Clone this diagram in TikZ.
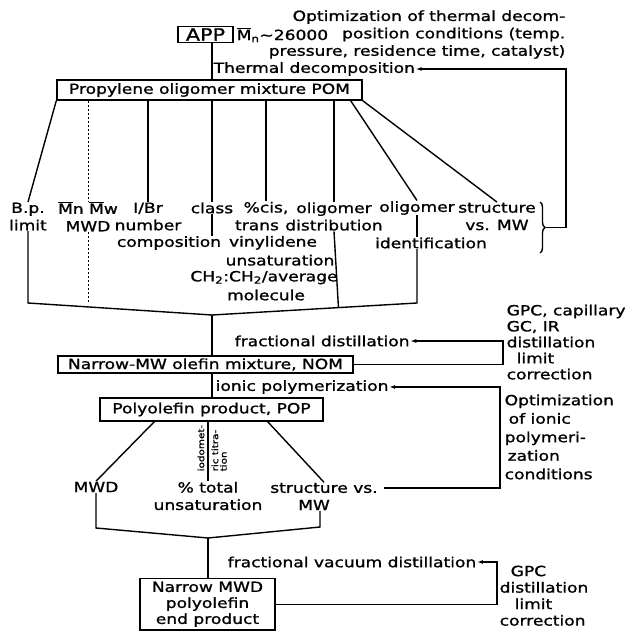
\documentclass[tikz,border=0pt]{standalone}
\usepackage{fontspec}
\setmainfont{DejaVu Sans}[FakeStretch=1.22,FakeBold=1.2]
\usetikzlibrary{arrows.meta,calc,decorations.pathreplacing}
\newcommand\Mbar{$\overline{\mbox{M}}$}

\begin{document}
\begin{tikzpicture}[x=1pt,y=-1pt,line width=1.4pt,
    font=\fontsize{14}{17.4}\selectfont,
    every node/.style={inner sep=0pt},
    box/.style={draw,inner sep=3pt},
    lbl/.style={align=center},
    fb/.style={-{Latex[length=6pt,width=4pt]}},
    dots/.style={line width=0.8pt,dash pattern=on 2pt off 2pt}]
  \useasboundingbox (0,0) rectangle (631,631);

  % feedstock and thermal step
  \node[box,minimum width=55pt,minimum height=16pt,inner sep=0pt,
        font=\fontsize{17}{18}\selectfont] (app) at (205.5,34.5) {APP};
  \node[anchor=west] (mn) at (236,35) {\Mbar\textsubscript{n}\textasciitilde26000};
  \node[anchor=east,align=right] (opt1) at (566,34.5)
    {Optimization of thermal decom-\\position conditions (temp.\\pressure, residence time, catalyst)};
  \node[anchor=west] (thd) at (213,69) {Thermal decomposition};
  \node[box,minimum width=305pt,minimum height=20pt,inner sep=0pt] (pom) at (209.5,90)
    {Propylene oligomer mixture POM};
  \coordinate (ax) at (212,0);
  \draw (app.south -| ax) -- (pom.north -| ax);

  % analyses of POM
  \node[lbl] (bp) at (28,216.5) {B.p.\\limit};
  \node[lbl] (mw) at (88,216.5) {\Mbar n \Mbar w\\MWD};
  \node[lbl] (ibr) at (148,216.5) {I/Br\\number};
  \node (cls) at (212,208) {class};
  \node (cmp) at (169,243) {composition};
  \foreach \t/\x [count=\i] in {{\%cis,}/266, trans/257, vinylidene/273, unsaturation/280,
      {CH\textsubscript{2}:CH\textsubscript{2}/average}/264, molecule/266}
    \node (cis\i) at (\x,190.6+17.4*\i) {\t};
  \node[lbl] (ol1) at (334,216.5) {oligomer\\distribution};
  \node (ol2) at (417,208) {oligomer};
  \node (idf) at (431,243) {identification};
  \node[lbl] (str) at (497,216.5) {structure\\vs. MW};

  \draw (pom.south west) -- (bp.north);
  \draw[dots] (pom.south -| mw) -- (mw.north);
  \foreach \n in {ibr,cls,cis1,ol1}
    \draw (pom.south -| \n) -- (\n.north);
  \draw ([xshift=-12pt]pom.south east) -- (ol2.north);
  \draw (pom.south east) -- (str.north);
  \draw (cls.south) -- (cmp.north -| cls);
  \draw (ol2.south) -- (idf.north -| ol2);

  % brace and feedback
  \draw[decorate,decoration={brace,amplitude=5pt}] (540,202) -- (540,253);
  \coordinate (brc) at (546,227.5);
  \coordinate (fbx) at (566,0);
  \draw[fb] (brc) -- (brc -| fbx) |- (thd.east);

  % distillation
  \node[anchor=west] (fdist) at (234,341) {fractional distillation};
  \node[box,minimum width=295pt,minimum height=17pt,inner sep=0pt] (nom) at (205.5,364.5)
    {Narrow-MW olefin mixture, NOM};
  \node[anchor=north west,align=left,font=\fontsize{14}{16}\selectfont] (gpc1) at (506,304)
    {GPC, capillary\\GC, IR\\distillation\\\hspace{10pt}limit\\correction};
  \coordinate (gx1) at (503,0);
  \draw[fb] (nom.east) -- (nom.east -| gx1) |- (fdist.east);

  % collect
  \coordinate (vl) at (28,303);
  \coordinate (vm) at (212,315);
  \coordinate (vr) at (417,303);
  \draw (bp.south) -- (vl) -- (vm) -- (vr) -- (vr |- idf.south);
  \draw[dots] (mw.south) -- (mw.south |- vl);
  \draw (ol1.south) -- ($(vm)!(ol1.south)!(vr)$);
  \draw (vm) -- (nom.north -| vm);

  % polymerization
  \node[anchor=west] (ion) at (215,387) {ionic polymerization};
  \node[box,minimum width=223pt,minimum height=23pt,inner sep=0pt] (pop) at (211.5,409.5)
    {Polyolefin product, POP};
  \draw (nom.south -| vm) -- (pop.north -| vm);
  \node[anchor=west,align=left,font=\fontsize{14}{18.5}\selectfont] (opt2) at (504,437)
    {Optimization\\\hspace{4pt}of ionic\\polymeri-\\\hspace{3pt}zation\\conditions};

  % analyses of POP
  \node (mwd) at (96,487) {MWD};
  \node[lbl] (tot) at (208,496) {\% total\\unsaturation};
  \node (strvs) at (324,488) {structure vs.};
  \node (mw2) at (314,505) {MW};
  \draw ([xshift=55pt]pop.south west) -- (mwd.north);
  \draw (pop.south -| tot) -- (tot.north);
  \draw ([xshift=-56pt]pop.south east) -- (strvs.north);
  \node[rotate=90,anchor=south west,font=\fontsize{8.5}{8.5}\selectfont] (iod) at (205,472) {iodomet-};
  \node[rotate=90,anchor=north west,align=left,font=\fontsize{8.5}{8.5}\selectfont] (tit) at (211,472)
    {ric titra-\\tion};
  \coordinate (gx2) at (500,0);
  \draw[fb] ([xshift=6pt]strvs.east) -- (strvs.east -| gx2) |- (ion.east);

  % final distillation
  \node[anchor=west] (fvd) at (227,562) {fractional vacuum distillation};
  \node[box,anchor=north,align=center,minimum width=135pt,font=\fontsize{14}{16}\selectfont]
    (end) at (207.5,578) {Narrow MWD\\polyolefin\\end product};
  \node[anchor=north west,align=left,font=\fontsize{14}{16.5}\selectfont] (gpc2) at (499,565)
    {\hspace{11pt}GPC\\distillation\\\hspace{15pt}limit\\correction};
  \coordinate (gx3) at (497,0);
  \draw[fb] (end.east) -- (end.east -| gx3) |- (fvd.east);

  % collect
  \coordinate (wl) at (96,528);
  \coordinate (wm) at (208,538);
  \coordinate (wr) at (320,527);
  \draw (mwd.south) -- (wl) -- (wm) -- (wr) -- (wr |- mw2.south);
  \draw (wm) -- (end.north -| wm);
\end{tikzpicture}
\end{document}
